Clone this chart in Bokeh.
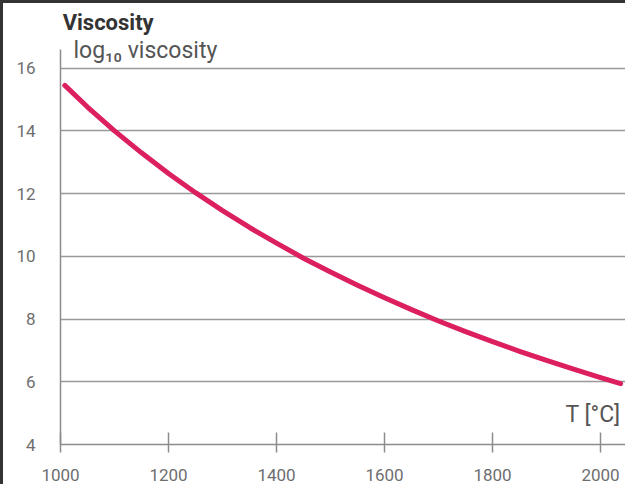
from bokeh.plotting import figure
from bokeh.models import Range1d, FixedTicker, Label
from bokeh.embed import file_html
from bokeh.resources import INLINE

# data
temperature_c = [1008, 1050, 1100, 1150, 1200, 1250, 1300, 1350, 1400, 1450, 1500,
                 1550, 1600, 1650, 1700, 1750, 1800, 1850, 1900, 1950, 2000, 2037]
log10_viscosity = [15.45, 14.76, 14.0, 13.3, 12.64, 12.03, 11.46, 10.92, 10.42, 9.94, 9.5,
                   9.08, 8.68, 8.3, 7.94, 7.6, 7.28, 6.97, 6.68, 6.4, 6.13, 5.94]
x_ticks = [1000, 1200, 1400, 1600, 1800, 2000]
y_ticks = [4, 6, 8, 10, 12, 14, 16]

title_text = "Viscosity"
y_label_text = "log\u2081\u2080 viscosity"
x_label_text = "T [\u00b0C]"

FONT = "Roboto"

p = figure(width=625, height=484, output_backend="svg", toolbar_location=None,
           x_range=Range1d(1000, 2048), y_range=Range1d(4, 18.03),
           min_border_left=57, min_border_right=2, min_border_top=1, min_border_bottom=43)
p.styles = {"border-left": "3px solid #333333", "border-top": "3px solid #333333"}
p.outline_line_color = None
p.background_fill_color = "white"
p.border_fill_color = "white"

# axes
p.xaxis.ticker = FixedTicker(ticks=x_ticks)
p.yaxis.ticker = FixedTicker(ticks=y_ticks)
p.yaxis.bounds = (4, 16.6)
for ax in (p.xaxis, p.yaxis):
    ax.axis_line_color = "#8c8c8c"
    ax.axis_line_width = 1.5
    ax.major_label_text_font = FONT
    ax.major_label_text_font_size = "17px"
    ax.major_label_text_color = "#6e6e6e"
    ax.minor_tick_line_color = None
p.xaxis.major_tick_line_color = "#8c8c8c"
p.xaxis.major_tick_line_width = 1.5
p.xaxis.major_tick_in = 12
p.xaxis.major_tick_out = 8
p.xaxis.major_label_standoff = 16
p.yaxis.major_tick_line_color = None
p.yaxis.major_tick_in = 0
p.yaxis.major_tick_out = 0
p.yaxis.major_label_standoff = 25

p.xgrid.grid_line_color = None
p.ygrid.grid_line_color = "#999999"
p.ygrid.grid_line_width = 1.5

p.line(temperature_c, log10_viscosity, line_color="#dc1f5e", line_width=5, line_cap="round",
       line_join="round")

p.add_layout(Label(x=1004, y=17.47, text=title_text, text_font=FONT, text_font_style="bold",
                   text_font_size="22px", text_color="#333333", text_baseline="alphabetic"))
p.add_layout(Label(x=1024, y=16.55, text=y_label_text, text_font=FONT,
                   text_font_size="23px", text_color="#555555", text_baseline="alphabetic"))
p.add_layout(Label(x=2037, y=4.97, text=x_label_text, text_font=FONT, text_align="right",
                   text_font_size="23px", text_color="#555555", text_baseline="alphabetic"))

open("out.html", "w").write(file_html(p, INLINE))
